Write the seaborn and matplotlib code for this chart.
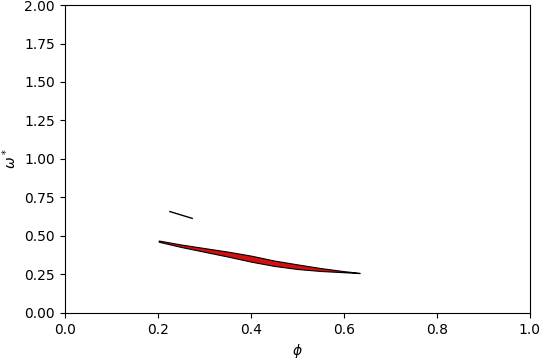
import matplotlib
matplotlib.use("Agg")
import matplotlib.pyplot as plt
import seaborn as sns
import numpy as np
import pandas as pd

# band data
phi_band = [0.202, 0.25, 0.30, 0.35, 0.40, 0.45, 0.50, 0.55, 0.60, 0.634]
omega_upper = [0.470, 0.444, 0.421, 0.398, 0.372, 0.340, 0.315, 0.291, 0.271, 0.260]
omega_lower = [0.462, 0.428, 0.397, 0.366, 0.333, 0.305, 0.285, 0.272, 0.264, 0.258]

# short segment
phi_seg = [0.226, 0.274]
omega_seg = [0.658, 0.614]

fig = plt.figure(figsize=(5.4, 3.6), dpi=100)
ax = fig.add_axes([0.12, 0.131, 0.861, 0.855])

ax.fill_between(phi_band, omega_lower, omega_upper, facecolor="#d40f0f",
                edgecolor="black", linewidth=0.8)
df = pd.DataFrame({"phi": phi_seg, "omega": omega_seg})
sns.lineplot(data=df, x="phi", y="omega", color="black", linewidth=1.0, ax=ax)

ax.set_xlim(0, 1)
ax.set_ylim(0, 2)
ax.set_xlabel(r"$\phi$")
ax.set_ylabel(r"$\omega^*$")
fig.savefig("out.png", dpi=100)
